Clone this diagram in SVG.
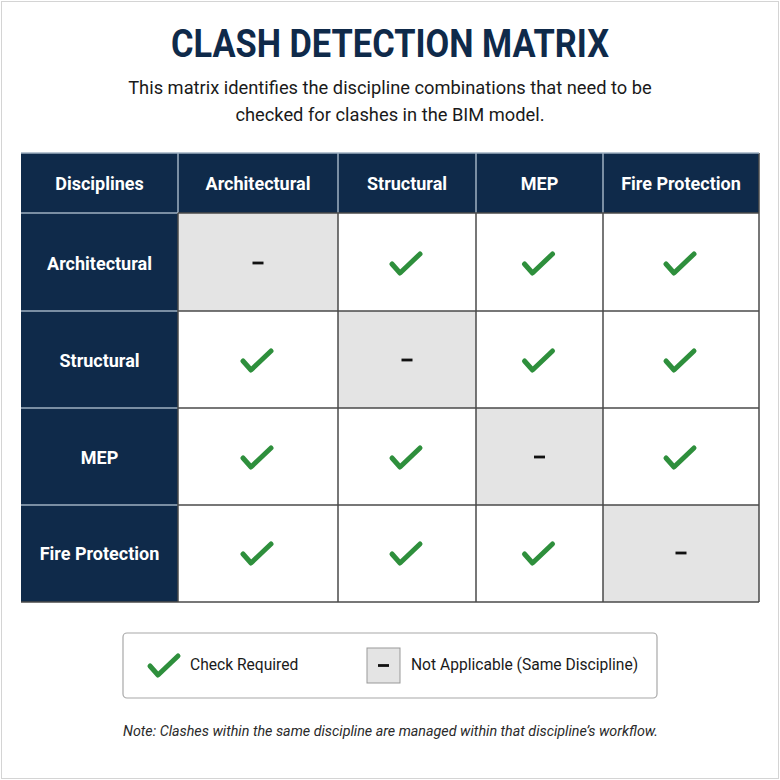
<svg xmlns="http://www.w3.org/2000/svg" width="780" height="780" viewBox="0 0 780 780">
<defs>
<style>
.title{font-family:Roboto,"Liberation Sans",sans-serif;font-weight:700;font-size:38px;fill:#0f2a4a}
.sub{font-family:Roboto,"Liberation Sans",sans-serif;font-size:18.3px;fill:#1a1a1a}
.hd{font-family:Roboto,"Liberation Sans",sans-serif;font-weight:700;font-size:18px;fill:#ffffff}
.leg{font-family:Roboto,"Liberation Sans",sans-serif;font-size:15.6px;fill:#1a1a1a}
.note{font-family:Roboto,"Liberation Sans",sans-serif;font-style:italic;font-size:14.3px;fill:#2a2a2a}
.dark{fill:#0f2a4a}
.na{fill:#e4e4e4}
.ok{fill:#ffffff}
.ck{fill:none;stroke:#2e8f3c;stroke-width:5;stroke-linecap:round;stroke-linejoin:round}
.dash{stroke:#111;stroke-width:2.8}
.grid{stroke:#4a4a4a;stroke-width:1.5;fill:none}
.hgrid{stroke:#9fb0c2;stroke-width:1.5}
</style>
<path id="chk" class="ck" d="M-15,1 L-7,10 L13,-9"/>
<line id="dsh" class="dash" x1="-5.5" y1="0" x2="5.5" y2="0"/>
</defs>
<rect x="0" y="0" width="780" height="780" fill="#ffffff"/>
<rect x="1.5" y="1.5" width="777" height="777" fill="none" stroke="#d4d4d4" stroke-width="1"/>

<text class="title" x="390" y="57" text-anchor="middle" textLength="438" lengthAdjust="spacingAndGlyphs">CLASH DETECTION MATRIX</text>
<text class="sub" x="390" y="94" text-anchor="middle">This matrix identifies the discipline combinations that need to be</text>
<text class="sub" x="390" y="121" text-anchor="middle">checked for clashes in the BIM model.</text>

<g id="matrix">
<g id="header">
<rect class="dark" x="21" y="153" width="738" height="60"/>
<text class="hd" x="99.5" y="190" text-anchor="middle">Disciplines</text>
<text class="hd" x="258" y="190" text-anchor="middle">Architectural</text>
<text class="hd" x="407" y="190" text-anchor="middle">Structural</text>
<text class="hd" x="539.5" y="190" text-anchor="middle">MEP</text>
<text class="hd" x="681" y="190" text-anchor="middle">Fire Protection</text>
</g>
<g id="rowlabels">
<rect class="dark" x="21" y="213" width="157" height="389"/>
<text class="hd" x="99.5" y="270" text-anchor="middle">Architectural</text>
<text class="hd" x="99.5" y="367" text-anchor="middle">Structural</text>
<text class="hd" x="99.5" y="464" text-anchor="middle">MEP</text>
<text class="hd" x="99.5" y="560" text-anchor="middle">Fire Protection</text>
</g>
<g id="cells">
<rect class="ok" x="178" y="213" width="581" height="389"/>
<rect class="na" x="178" y="213" width="160" height="98"/>
<rect class="na" x="338" y="311" width="138" height="97"/>
<rect class="na" x="476" y="408" width="127" height="97"/>
<rect class="na" x="603" y="505" width="156" height="97"/>
</g>
<g id="hlines">
<line class="hgrid" x1="178" y1="153" x2="178" y2="213"/>
<line class="hgrid" x1="338" y1="153" x2="338" y2="213"/>
<line class="hgrid" x1="476" y1="153" x2="476" y2="213"/>
<line class="hgrid" x1="603" y1="153" x2="603" y2="213"/>
<line class="hgrid" x1="21" y1="213" x2="178" y2="213"/>
<line class="hgrid" x1="21" y1="311" x2="178" y2="311"/>
<line class="hgrid" x1="21" y1="408" x2="178" y2="408"/>
<line class="hgrid" x1="21" y1="505" x2="178" y2="505"/>
</g>
<g id="gridlines" class="grid">
<line x1="178" y1="213" x2="759" y2="213"/>
<line x1="178" y1="311" x2="759" y2="311"/>
<line x1="178" y1="408" x2="759" y2="408"/>
<line x1="178" y1="505" x2="759" y2="505"/>
<line x1="178" y1="213" x2="178" y2="602"/>
<line x1="338" y1="213" x2="338" y2="602"/>
<line x1="476" y1="213" x2="476" y2="602"/>
<line x1="603" y1="213" x2="603" y2="602"/>
<line x1="21" y1="602" x2="759" y2="602"/>
<line x1="759" y1="153" x2="759" y2="602"/>
<line x1="21" y1="153" x2="759" y2="153" stroke="#9fb0c2"/>
</g>
<g id="marks">
<use href="#dsh" x="258" y="263"/>
<use href="#chk" x="407" y="263"/>
<use href="#chk" x="539.5" y="263"/>
<use href="#chk" x="681" y="263"/>

<use href="#chk" x="258" y="360"/>
<use href="#dsh" x="407" y="360"/>
<use href="#chk" x="539.5" y="360"/>
<use href="#chk" x="681" y="360"/>

<use href="#chk" x="258" y="457"/>
<use href="#chk" x="407" y="457"/>
<use href="#dsh" x="539.5" y="457"/>
<use href="#chk" x="681" y="457"/>

<use href="#chk" x="258" y="553"/>
<use href="#chk" x="407" y="553"/>
<use href="#chk" x="539.5" y="553"/>
<use href="#dsh" x="681" y="553"/>
</g>
</g>

<g id="legend">
<rect x="123" y="633" width="534" height="65" rx="4" fill="#ffffff" stroke="#a8a8a8" stroke-width="1.2"/>
<use href="#chk" x="165" y="665"/>
<text class="leg" x="190" y="670">Check Required</text>
<rect x="367" y="648" width="33" height="35" fill="#e4e4e4" stroke="#999" stroke-width="1"/>
<use href="#dsh" x="383.5" y="665.5"/>
<text class="leg" x="411" y="670">Not Applicable (Same Discipline)</text>
</g>

<text class="note" x="123" y="736">Note: Clashes within the same discipline are managed within that discipline’s workflow.</text>
</svg>
